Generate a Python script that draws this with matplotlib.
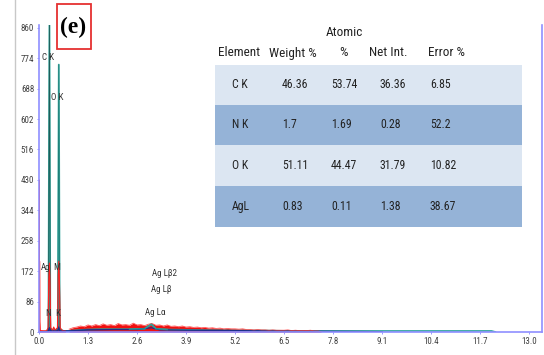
import numpy as np
import matplotlib
matplotlib.use("Agg")
import matplotlib.pyplot as plt
from matplotlib.patches import Rectangle
from matplotlib import font_manager

# pick a narrow sans face if one is installed
_names = {f.name for f in font_manager.fontManager.ttflist}
NARROW = ["DejaVu Sans"]
for cand in ["Liberation Sans Narrow", "Arial Narrow", "Roboto Condensed", "DejaVu Sans Condensed"]:
    if cand in _names:
        NARROW = [cand, "DejaVu Sans"]
        break
STRETCH = "condensed"

# teal spectrum (main trace)
teal_e = [0.0, 0.20, 0.25, 0.277, 0.30, 0.36, 0.39, 0.42, 0.50, 0.525, 0.55, 0.65, 0.8, 1.0,
          1.3, 1.6, 2.0, 2.4, 2.8, 2.98, 3.1, 3.4, 3.9, 4.5, 5.2, 6.0, 6.5, 7.0, 7.8, 8.5,
          9.1, 10.0, 10.4, 11.0, 11.7, 12.0, 12.1]
teal_c = [0, 2, 8, 900, 8, 4, 9, 4, 10, 756, 8, 3, 3, 5, 7, 8, 8, 8, 9, 22, 9, 7, 6, 5,
          4, 4, 3, 3, 3, 3, 3, 3, 3, 3, 3, 3, 0]

# red spectrum, peak region
red_peak_e = [0.0, 0.005, 0.01, 0.015, 0.02, 0.03, 0.2, 0.24, 0.26, 0.277, 0.29, 0.31, 0.36,
              0.39, 0.42, 0.49, 0.51, 0.525, 0.54, 0.56, 0.62, 0.7]
red_peak_c = [0, 430, 40, 200, 30, 4, 3, 12, 150, 195, 150, 12, 5, 14, 5, 12, 160, 200,
              160, 12, 4, 3]

# red spectrum, background band 0.8 .. 7.5 keV
red_bg_c = [8, 12, 14, 17, 15, 20, 17, 21, 18, 23, 19, 21, 18, 24, 20, 21, 19, 25, 20, 21,
            18, 22, 24, 19, 20, 17, 20, 16, 17, 15, 17, 14, 15, 13, 14, 12, 13, 11, 12, 10,
            11, 9, 10, 9, 9, 8, 9, 7, 7, 6, 7, 6, 6, 5, 6, 5, 5, 5, 6, 4, 5, 4, 4, 4, 5, 3,
            3, 0]
red_bg_e = np.round(np.linspace(0.8, 7.5, len(red_bg_c)), 3)

# navy smoothed trace
navy_e = [0.0, 0.25, 0.277, 0.30, 0.5, 0.525, 0.55, 0.8, 1.3, 2.0, 2.6, 2.98, 3.2, 3.9, 5.2,
          6.5, 7.8, 9.1]
navy_c = [0, 2, 12, 3, 3, 14, 3, 3, 6, 7, 7, 12, 6, 5, 4, 3, 2, 1]

peak_labels = ["C K", "O K", "Ag", "M", "N", "K", "Ag Lβ2", "Ag Lβ", "Ag Lα"]
peak_lx = [0.24, 0.49, 0.18, 0.47, 0.25, 0.49, 3.34, 3.24, 3.08]
peak_ly = [775, 663, 181, 181, 51, 51, 164, 119, 54]

yticks = [0, 86, 172, 258, 344, 430, 516, 602, 688, 774, 860]
xticks = [0.0, 1.3, 2.6, 3.9, 5.2, 6.5, 7.8, 9.1, 10.4, 11.7, 13.0]

# quant table
tbl_elements = ["C K", "N K", "O K", "AgL"]
tbl_weight = ["46.36", "1.7", "51.11", "0.83"]
tbl_atomic = ["53.74", "1.69", "44.47", "0.11"]
tbl_netint = ["36.36", "0.28", "31.79", "1.38"]
tbl_error = ["6.85", "52.2", "10.82", "38.67"]

W, H = 544, 355
fig = plt.figure(figsize=(W / 100, H / 100), dpi=100)
ax = fig.add_axes([39 / W, 1 - 332 / H, (542 - 39) / W, (332 - 25) / H])

ax.plot(teal_e, teal_c, color="#2aa39a", lw=1.3, alpha=0.9)
ax.plot(teal_e[:6], teal_c[:6], color="#1d5f5a", lw=0.6)
ax.plot(teal_e[7:12], teal_c[7:12], color="#1f7f78", lw=0.6)
ax.plot(navy_e, navy_c, color="#1c2f8a", lw=0.9)
ax.fill_between(red_bg_e, red_bg_c, color="#f01010", lw=0)
ax.plot(red_bg_e, red_bg_c, color="#ff3030", lw=0.6, alpha=0.8)
ax.fill_between(red_peak_e, red_peak_c, color="#ff1010", lw=0)
ax.plot(red_peak_e, red_peak_c, color="#ff2020", lw=0.8)
ax.plot(navy_e[:11], navy_c[:11], color="#1c2f8a", lw=0.7, alpha=0.8)
ax.plot(teal_e[17:22], teal_c[17:22], color="#2aa39a", lw=1.0, alpha=0.8)

for s, x, y in zip(peak_labels, peak_lx, peak_ly):
    ax.text(x, y, s, ha="center", va="center", fontsize=6.5, color="#333333",
            family=NARROW, stretch=STRETCH)

ax.set_xlim(0, 13.34)
ax.set_ylim(0, 868)
ax.set_xticks(xticks)
ax.set_xticklabels([f"{v:.1f}" for v in xticks])
ax.set_yticks(yticks)
ax.tick_params(length=1.5, width=0.6, colors="#8888ff", labelcolor="#404040", labelsize=6.5, pad=2)
for lab in ax.get_xticklabels() + ax.get_yticklabels():
    lab.set_family(NARROW)
    lab.set_stretch(STRETCH)
for side in ["left", "bottom", "right"]:
    ax.spines[side].set_color("#8f8fff")
    ax.spines[side].set_linewidth(1.2)
ax.spines["top"].set_visible(False)

# outer grey frame line
fig.add_artist(plt.Line2D([15 / W, 15 / W], [0, 1], color="#c8c8c8", lw=1.0))

# table
def fx(px):
    return px / W

def fy(py):
    return 1 - py / H

row_top = [65, 105, 145, 186]
row_bot = [105, 145, 186, 227]
row_col = ["#dce6f2", "#95b3d7", "#dce6f2", "#95b3d7"]
for t, b, c in zip(row_top, row_bot, row_col):
    fig.add_artist(Rectangle((fx(215), fy(b)), fx(522) - fx(215), fy(t) - fy(b),
                             transform=fig.transFigure, color=c, lw=0))

hdr_font = dict(fontsize=9.5, color="#222222", family=NARROW, stretch=STRETCH,
                ha="center", va="center")
fig.text(fx(344), fy(33), "Atomic", **hdr_font)
for s, x in zip(["Element", "Weight %", "%", "Net Int.", "Error %"], [239, 293, 343, 388, 447]):
    fig.text(fx(x), fy(53), s, **hdr_font)

col_x = [232, 282, 331, 380, 430]
for i in range(len(tbl_elements)):
    yc = (row_top[i] + row_bot[i]) / 2
    vals = [tbl_elements[i], tbl_weight[i], tbl_atomic[i], tbl_netint[i], tbl_error[i]]
    for v, x in zip(vals, col_x):
        fig.text(fx(x), fy(yc), v, fontsize=8.5, color="#222222", family=NARROW,
                 stretch=STRETCH, ha="left", va="center")

# panel tag
fig.add_artist(Rectangle((fx(57), fy(49)), fx(91) - fx(57), fy(4) - fy(49),
                         transform=fig.transFigure, fill=True, facecolor="white",
                         edgecolor="#e53030", lw=1.3))
fig.text(fx(73), fy(27), "(e)", fontsize=17, fontweight="bold", family="Liberation Serif",
         ha="center", va="center", color="black")

fig.savefig("out.png", dpi=100)
